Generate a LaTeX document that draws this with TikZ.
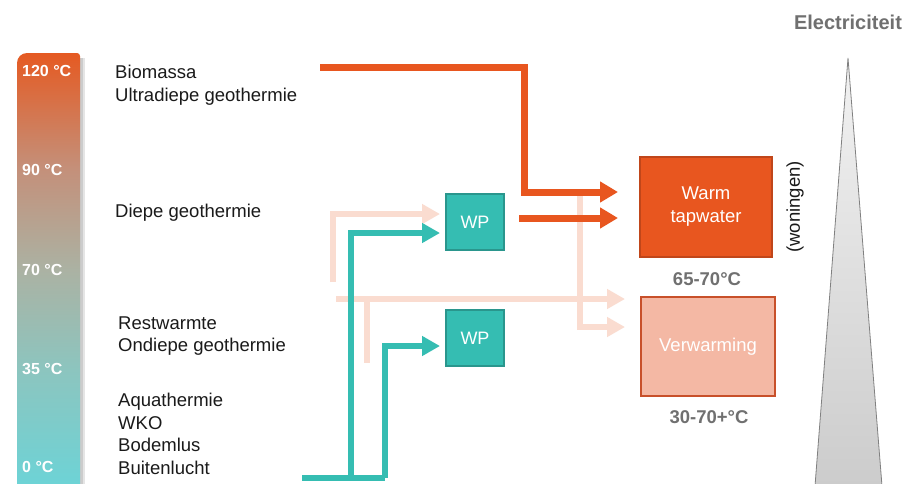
\documentclass[tikz,border=0pt]{standalone}
\usepackage{fontspec}
\setmainfont{Liberation Sans}
\usetikzlibrary{arrows.meta}
\definecolor{orangeA}{HTML}{E8561F}
\definecolor{orangeB}{HTML}{C0461A}
\definecolor{pinkA}{HTML}{FADCD0}
\definecolor{tealA}{HTML}{35BDB2}
\definecolor{tealB}{HTML}{2A968D}
\definecolor{salmonA}{HTML}{F4B8A4}
\definecolor{salmonB}{HTML}{C8502A}
\definecolor{grayT}{HTML}{707070}
\definecolor{txt}{HTML}{1A1A1A}
\definecolor{barTop}{HTML}{E55A22}
\definecolor{barA}{HTML}{C4907A}
\definecolor{barB}{HTML}{ABB2A3}
\definecolor{barC}{HTML}{8CC5BF}
\definecolor{barBot}{HTML}{6DD3D6}
\pgfdeclareverticalshading{tempbar}{100bp}{color(0bp)=(barBot); color(25bp)=(barBot); color(38.3bp)=(barC); color(49.9bp)=(barB); color(61.6bp)=(barA); color(75bp)=(barTop); color(100bp)=(barTop)}
\tikzset{
  src/.style={anchor=west, inner sep=0pt, align=left, text=txt, font=\fontsize{18.5}{22.5}\selectfont},
  templbl/.style={anchor=west, inner sep=0pt, text=white, font=\bfseries\fontsize{16}{18}\selectfont},
  wpbox/.style={draw=tealB, fill=tealA, line width=1.2pt, minimum width=58pt, minimum height=56pt, inner sep=0pt, text=white, font=\fontsize{18}{20}\selectfont},
  orflow/.style={draw=orangeA, line width=7pt, -{Triangle[length=18pt,width=20pt]}},
  pkflow/.style={draw=pinkA, line width=6pt, -{Triangle[length=18pt,width=19pt]}},
  pkline/.style={draw=pinkA, line width=6pt},
  tlflow/.style={draw=tealA, line width=6pt, -{Triangle[length=18pt,width=19pt]}},
  tlline/.style={draw=tealA, line width=6pt},
  graylbl/.style={text=grayT, font=\bfseries\fontsize{18.5}{22}\selectfont, inner sep=0pt},
}
\begin{document}
\begin{tikzpicture}[x=1pt,y=-1pt]
\useasboundingbox[fill=white] (0,0) rectangle (906,483);
% temperature bar
\fill[black!10] (80,58) rectangle (85,485);
\fill[black!20] (80,58) rectangle (82.5,485);
\shade[shading=tempbar] (17,485) -- (17,63) arc[start angle=180,end angle=270,radius=10] -- (77,53) arc[start angle=270,end angle=360,radius=3] -- (80,485) -- cycle;
\node[templbl] (t120) at (22,71) {120 °C};
\node[templbl] (t90) at (22,170) {90 °C};
\node[templbl] (t70) at (22,270) {70 °C};
\node[templbl] (t35) at (22,369) {35 °C};
\node[templbl] (t0) at (22,467) {0 °C};
% sources
\node[src] (bio) at (115,85) {Biomassa\\Ultradiepe geothermie};
\node[src] (diep) at (115,213) {Diepe geothermie};
\node[src] (rest) at (118,336) {Restwarmte\\Ondiepe geothermie};
\node[src] (aqua) at (118,434) {Aquathermie\\WKO\\Bodemlus\\Buitenlucht};
% electricity triangle
\shade[top color=black!5, bottom color=black!20, draw=black!50, line width=0.8pt] (815,486) -- (848,58) -- (882,486) -- cycle;
\node[graylbl, font=\bfseries\fontsize{20}{22}\selectfont] (elec) at (848,22) {Electriciteit};
% boxes
\node[draw=orangeB, fill=orangeA, line width=1.2pt, minimum width=132pt, minimum height=100pt, inner sep=0pt, align=center, text=white, font=\fontsize{18.5}{23}\selectfont] (wt) at (706,207) {Warm\\tapwater};
\node[draw=salmonB, fill=salmonA, line width=1.2pt, minimum width=134pt, minimum height=99pt, inner sep=0pt, text=white, font=\fontsize{18.5}{22}\selectfont] (verw) at (708,346.5) {Verwarming};
\node[graylbl] (t1) at (707,279) {65-70°C};
\node[graylbl] (t2) at (709,417) {30-70+°C};
\node[rotate=90, inner sep=0pt, text=txt, font=\fontsize{18.5}{22}\selectfont] (won) at (795,207) {(woningen)};
% heat pumps
\node[wpbox] (wp1) at (475,222) {WP};
\node[wpbox] (wp2) at (475,338) {WP};
% connector endpoints
\coordinate (oS) at (320,67);
\coordinate (oT1) at (618,192);
\coordinate (oS2) at (519,218);
\coordinate (oT2) at (618,218);
\coordinate (pS1) at (333,282);
\coordinate (pT1) at (440,214);
\coordinate (pS2) at (336,299);
\coordinate (pT2) at (625,299);
\coordinate (pS3) at (580,196);
\coordinate (pT3) at (625,327);
\coordinate (pS4) at (367,299);
\coordinate (pE4) at (367,363);
\coordinate (tS) at (302,478);
\coordinate (tJ) at (351,478);
\coordinate (tK) at (385,478);
\coordinate (tT1) at (440,233);
\coordinate (tT2) at (440,346);
% pink flows
\draw[pkflow] (pS1) |- (pT1);
\draw[pkflow] (pS2) -- (pT2);
\draw[pkflow] (pS3) |- (pT3);
\draw[pkline] (pS4) -- (pE4);
% teal flows
\draw[tlline] (tS) -- (tK);
\draw[tlflow] (tJ) |- (tT1);
\draw[tlflow] (tK) |- (tT2);
% orange flows
\draw[orflow] (oS) -- ++(204,0) |- (oT1);
\draw[orflow] (oS2) -- (oT2);
\end{tikzpicture}
\end{document}
